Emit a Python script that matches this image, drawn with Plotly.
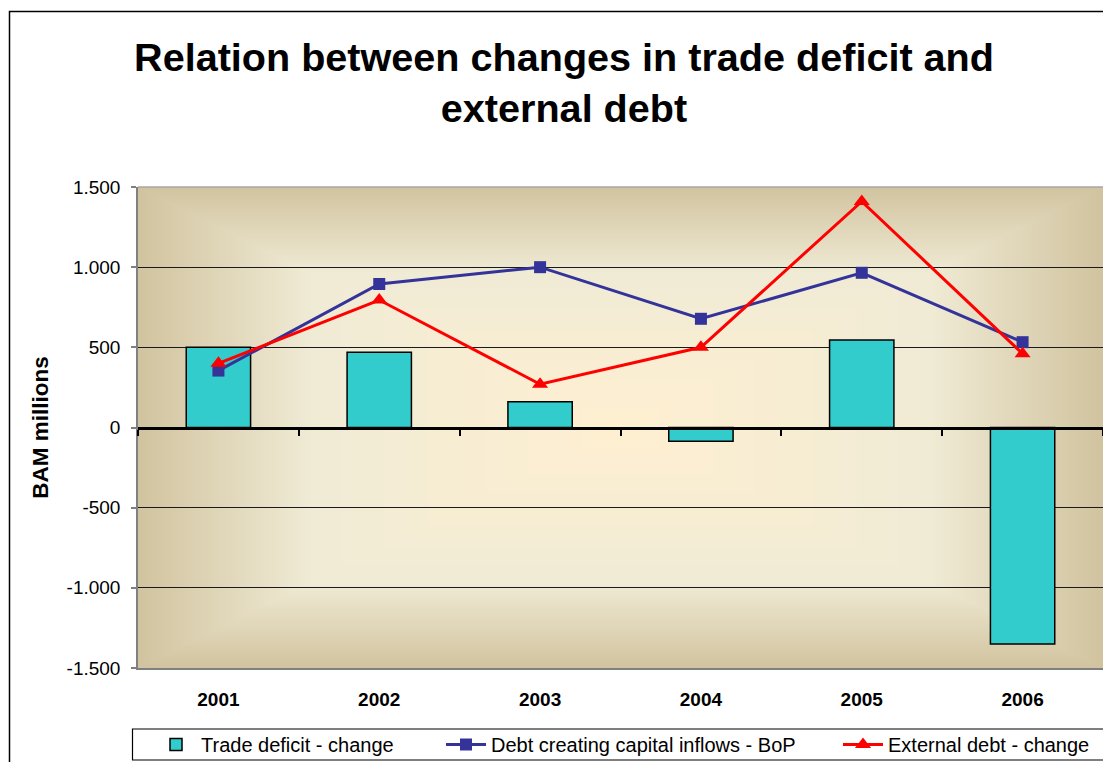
import base64
import struct
import zlib

import numpy as np
import plotly.graph_objects as go

# ---- data -------------------------------------------------------------
years = ["2001", "2002", "2003", "2004", "2005", "2006"]
trade_deficit_change = [500, 470, 160, -85, 545, -1350]
debt_creating_inflows = [355, 895, 1000, 678, 965, 532]
external_debt_change = [400, 795, 270, 500, 1410, 460]

y_tick_values = [-1500, -1000, -500, 0, 500, 1000, 1500]
y_tick_labels = ["-1.500", "-1.000", "-500", "0", "500", "1.000", "1.500"]

# ---- figure geometry (pixels) -------------------------------------------
FIG_W, FIG_H = 1103, 762
M_L, M_R, M_T, M_B = 138, 0, 187, 94
PLOT_W = FIG_W - M_L - M_R
PLOT_H = FIG_H - M_T - M_B

FONT = "Liberation Sans, Arial, Helvetica, sans-serif"


def px_to_paper_x(px):
    return (px - M_L) / PLOT_W


def px_to_paper_y(py):
    return (FIG_H - M_B - py) / PLOT_H


# ---- "parchment" from-centre gradient for the plot area -----------------
def parchment_png(w, h):
    xs = np.abs((np.arange(w) + 0.5) / w * 2 - 1)
    ys = np.abs((np.arange(h) + 0.5) / h * 2 - 1)
    t = np.maximum(xs[None, :], ys[:, None])
    stops = [0.0, 0.64, 1.0]
    c0, c1, c2 = (0xFF, 0xEF, 0xD1), (0xF0, 0xEB, 0xD5), (0xD1, 0xC3, 0x9F)
    img = np.zeros((h, w, 3), dtype=np.uint8)
    for ch in range(3):
        img[:, :, ch] = np.round(np.interp(t, stops, [c0[ch], c1[ch], c2[ch]])).astype(np.uint8)
    raw = b"".join(b"\x00" + row.tobytes() for row in img)

    def chunk(tag, data):
        return (struct.pack(">I", len(data)) + tag + data
                + struct.pack(">I", zlib.crc32(tag + data) & 0xFFFFFFFF))

    png = (b"\x89PNG\r\n\x1a\n"
           + chunk(b"IHDR", struct.pack(">IIBBBBB", w, h, 8, 2, 0, 0, 0))
           + chunk(b"IDAT", zlib.compress(raw, 9))
           + chunk(b"IEND", b""))
    return "data:image/png;base64," + base64.b64encode(png).decode("ascii")


# ---- traces -------------------------------------------------------------
fig = go.Figure()

fig.add_trace(go.Bar(
    x=years, y=trade_deficit_change, name="Trade deficit - change",
    marker=dict(color="#33CCCC", line=dict(color="#000000", width=1.5)),
    legend="legend", showlegend=True,
))
fig.add_trace(go.Scatter(
    x=years, y=debt_creating_inflows, name="Debt creating capital inflows - BoP",
    mode="lines+markers",
    line=dict(color="#333399", width=3),
    marker=dict(symbol="square", size=12, color="#333399"),
    legend="legend2", showlegend=True,
))
fig.add_trace(go.Scatter(
    x=years, y=external_debt_change, name="External debt - change",
    mode="lines+markers",
    line=dict(color="#FF0000", width=3),
    marker=dict(symbol="triangle-up", size=14, color="#FF0000"),
    legend="legend3", showlegend=True,
))
# empty trace so the zero-level category axis (x2) gets drawn
fig.add_trace(go.Scatter(x=[], y=[], xaxis="x2", yaxis="y",
                         showlegend=False, hoverinfo="skip"))

legend_common = dict(
    orientation="h", xref="container", yref="container",
    yanchor="middle", y=1 - 744.5 / FIG_H, xanchor="left",
    bgcolor="rgba(0,0,0,0)", borderwidth=0, itemwidth=40,
    font=dict(family=FONT, size=20, color="#000000"),
)

fig.update_layout(
    width=FIG_W, height=FIG_H,
    showlegend=True,
    margin=dict(l=M_L, r=M_R, t=M_T, b=M_B, autoexpand=False),
    paper_bgcolor="#FFFFFF",
    plot_bgcolor="rgba(0,0,0,0)",
    font=dict(family=FONT, color="#000000"),
    bargap=0.6,
    title=dict(
        text="<b>Relation between changes in trade deficit and<br>external debt</b>",
        font=dict(family=FONT, size=39.6, color="#000000"),
        xref="container", yref="container",
        x=564 / FIG_W, xanchor="center",
        y=1 - 71 / FIG_H, yanchor="middle",
    ),
    xaxis=dict(
        type="category",
        showline=True, linecolor="#808080", linewidth=2,
        ticks="", showgrid=False, zeroline=False,
        tickfont=dict(family=FONT, size=19, color="#000000", weight="bold"),
        ticklabelstandoff=13,
    ),
    xaxis2=dict(
        overlaying="x", anchor="free", position=0.5,
        range=[-0.5, len(years) - 0.5],
        tickvals=[i - 0.5 for i in range(len(years) + 1)],
        ticks="outside", ticklen=6, tickwidth=2, tickcolor="#000000",
        showticklabels=False, showgrid=False, zeroline=False,
        showline=True, linecolor="#000000", linewidth=3,
        layer="above traces",
    ),
    yaxis=dict(
        range=[-1500, 1500],
        tickvals=y_tick_values, ticktext=y_tick_labels,
        ticks="outside", ticklen=5, tickwidth=1.5, tickcolor="#808080",
        showline=True, linecolor="#808080", linewidth=1.5,
        showgrid=True, gridcolor="#1a1a1a", gridwidth=1,
        zeroline=False,
        tickfont=dict(family=FONT, size=19, color="#000000"),
        ticklabelstandoff=7,
        title=dict(text="<b>BAM millions</b>", standoff=12,
                   font=dict(family=FONT, size=22.5, color="#000000")),
    ),
    legend=dict(legend_common, x=151 / FIG_W),
    legend2=dict(legend_common, x=441 / FIG_W),
    legend3=dict(legend_common, x=838 / FIG_W),
    images=[dict(
        source=parchment_png(PLOT_W, PLOT_H),
        xref="x domain", yref="y domain", x=0, y=1, sizex=1, sizey=1,
        xanchor="left", yanchor="top", sizing="stretch", layer="below",
    )],
    shapes=[
        # plot-area top border
        dict(type="line", xref="paper", yref="paper", x0=0, x1=1, y0=1, y1=1,
             line=dict(color="#A6A6A6", width=1.5), layer="above"),
        # outer chart frame
        dict(type="rect", xref="paper", yref="paper",
             x0=px_to_paper_x(9.5), x1=px_to_paper_x(1130),
             y0=px_to_paper_y(790), y1=px_to_paper_y(11.5),
             line=dict(color="#000000", width=1.5), layer="below"),
        # legend box
        dict(type="rect", xref="paper", yref="paper",
             x0=px_to_paper_x(132.5), x1=px_to_paper_x(1120),
             y0=px_to_paper_y(760), y1=px_to_paper_y(729),
             line=dict(color="#000000", width=1.2), layer="below"),
    ],
)

fig.write_html("out.html")
